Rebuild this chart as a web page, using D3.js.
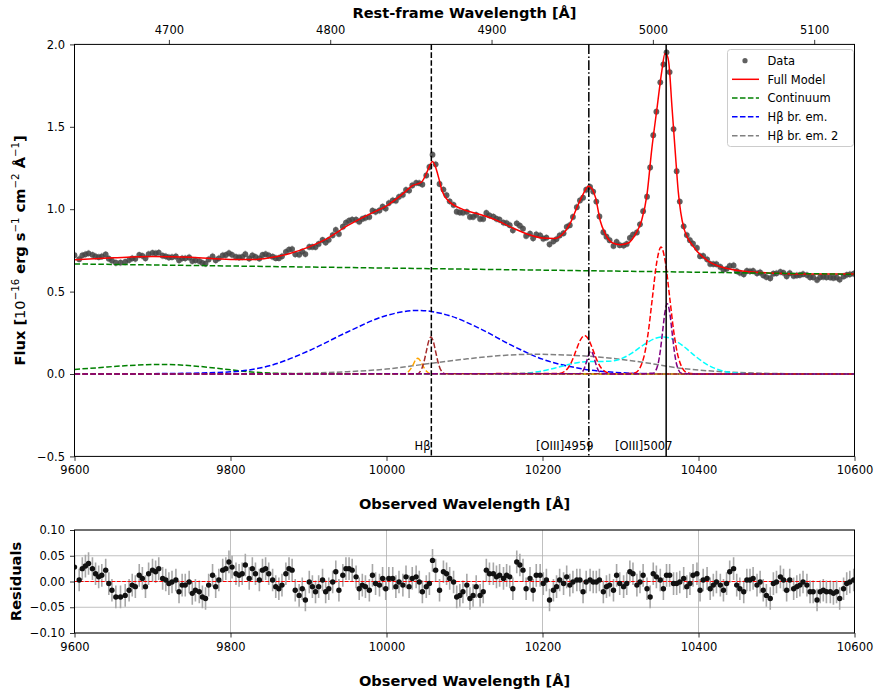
<!DOCTYPE html>
<html><head><meta charset="utf-8">
<script src="https://cdn.jsdelivr.net/npm/d3@7/dist/d3.min.js"></script>
<style>body{margin:0;background:#fff}svg text{font-family:"DejaVu Sans",sans-serif;fill:#000}</style>
</head><body><svg id="c" width="876" height="694"></svg>
<script>
// ---------- DATA ----------
const dataWave=[9600,9606,9610,9614,9618,9623,9627,9631,9635,9640,9644,9648,9653,9659,9665,9670,9674,9678,9683,9687,9691,9695,9700,9704,9708,9713,9717,9721,9725,9730,9734,9738,9742,9747,9751,9755,9760,9764,9768,9772,9777,9781,9785,9790,9794,9798,9802,9807,9811,9815,9819,9824,9828,9832,9837,9841,9845,9849,9854,9858,9862,9866,9871,9875,9879,9883,9888,9892,9896,9901,9905,9909,9913,9918,9922,9926,9931,9935,9939,9944,9948,9952,9956,9961,9965,9969,9973,9978,9982,9986,9991,9995,9999,10003,10008,10012,10016,10021,10025,10029,10033,10038,10042,10046,10051,10055,10059,10063,10068,10073,10077,10081,10086,10090,10094,10098,10103,10107,10111,10115,10120,10124,10128,10132,10137,10141,10145,10150,10154,10158,10162,10167,10171,10175,10179,10184,10188,10192,10197,10201,10205,10209,10214,10218,10222,10227,10231,10235,10239,10244,10248,10252,10256,10261,10265,10269,10273,10278,10282,10286,10291,10295,10299,10304,10308,10312,10316,10321,10325,10329,10334,10338,10342,10346,10351,10355,10359,10363,10368,10372,10376,10381,10385,10389,10393,10398,10402,10406,10411,10415,10419,10423,10428,10432,10436,10440,10445,10449,10453,10458,10462,10466,10470,10475,10479,10483,10487,10492,10496,10500,10505,10509,10513,10517,10522,10526,10530,10534,10539,10543,10547,10552,10556,10560,10564,10569,10573,10577,10581,10586,10590,10594,10599];
const dataFlux=[.721,.697,.720,.726,.732,.723,.714,.709,.713,.725,.700,.688,.675,.676,.680,.691,.702,.699,.722,.717,.702,.727,.735,.732,.737,.718,.714,.707,.709,.713,.690,.702,.702,.707,.685,.690,.685,.674,.670,.695,.713,.690,.702,.720,.722,.734,.723,.710,.707,.710,.727,.701,.720,.711,.701,.722,.728,.720,.712,.703,.703,.714,.741,.755,.758,.726,.724,.743,.728,.771,.771,.770,.789,.813,.798,.814,.842,.874,.850,.894,.919,.930,.937,.937,.924,.941,.948,.953,.991,.984,.992,1.015,1.004,1.037,1.054,1.052,1.075,1.087,1.117,1.113,1.144,1.160,1.158,1.150,1.205,1.256,1.331,1.272,1.153,1.119,1.085,1.048,1.026,.985,.980,.979,.984,.953,.953,.965,.941,.941,.977,.963,.955,.942,.936,.919,.915,.903,.872,.914,.900,.882,.838,.851,.823,.847,.841,.821,.827,.787,.805,.819,.841,.854,.893,.903,.953,1.012,1.053,1.070,1.118,1.135,1.107,1.046,.956,.860,.833,.812,.777,.802,.782,.779,.789,.826,.846,.859,.908,.988,1.076,1.253,1.449,1.592,1.770,1.879,1.952,1.832,1.486,1.231,1.046,.896,.843,.812,.791,.765,.715,.717,.696,.668,.667,.666,.650,.632,.638,.656,.659,.624,.614,.605,.626,.623,.625,.611,.616,.599,.588,.581,.609,.611,.620,.614,.593,.612,.595,.598,.600,.606,.600,.587,.587,.571,.587,.590,.587,.586,.583,.586,.573,.592,.602,.605,.609];
const residuals=[.028,.003,.025,.03,.035,.025,.015,.009,.012,.022,-.004,-.017,-.03,-.03,-.027,-.017,-.007,-.01,.012,.006,-.01,.015,.022,.019,.025,.006,.003,-.004,-.001,.003,-.02,-.007,-.007,-.001,-.023,-.017,-.02,-.03,-.033,-.007,.012,-.01,.003,.022,.025,.038,.028,.015,.012,.015,.032,.006,.025,.015,.003,.022,.025,.015,.003,-.01,-.014,-.007,.015,.025,.022,-.017,-.027,-.014,-.036,-.001,-.01,-.02,-.01,.003,-.02,-.014,-.001,.019,-.017,.012,.025,.025,.022,.009,-.014,-.007,-.01,-.017,.012,-.004,-.007,.006,-.014,.006,.006,-.01,-.001,-.007,.009,-.01,.006,.009,-.001,-.02,-.01,-.004,.041,.022,-.017,.019,.015,.006,-.001,-.03,-.027,-.02,-.007,-.033,-.027,-.01,-.027,-.02,.022,.015,.015,.009,.012,.006,.012,.009,-.014,.038,.032,.022,-.014,.006,-.017,.012,.012,-.004,.003,-.036,-.017,-.01,.003,-.004,.009,-.007,-.001,.003,.003,-.02,-.001,.003,-.001,-.001,.003,-.02,-.01,-.007,-.017,.012,-.004,-.01,-.004,.019,.015,-.007,-.001,.012,-.014,-.03,.015,.009,.003,-.014,.012,.012,-.004,-.004,-.001,.006,-.01,-.004,.012,.015,-.017,.003,.006,-.014,-.007,-.001,-.007,-.017,-.004,.019,.025,-.007,-.014,-.02,.003,.003,.006,-.007,-.001,-.017,-.027,-.033,-.004,-.001,.009,.003,-.017,.003,-.014,-.01,-.007,-.001,-.007,-.02,-.02,-.036,-.02,-.017,-.02,-.02,-.023,-.02,-.033,-.014,-.004,-.001,.003];
const fluxErr=0.022;

const modelWave=[9600,9650,9700,9750,9800,9830,9850,9875,9900,9925,9950,9975,10000,10020,10034,10045,10051,10055,10059,10064,10068,10071,10081,10090,10100,10120,10140,10160,10180,10200,10215,10225,10235,10245,10252,10259,10264,10268,10274,10280,10290,10300,10310,10320,10327,10334,10340,10347,10353,10357,10360,10362,10366,10370,10374,10381,10394,10411,10437,10466,10500,10530,10600];
const modelFlux=[.693,.705,.713,.708,.695,.695,.705,.73,.77,.825,.90,.963,1.02,1.09,1.144,1.165,1.215,1.26,1.29,1.24,1.17,1.114,1.043,1.015,.995,.968,.935,.89,.85,.825,.822,.845,.91,1.02,1.09,1.14,1.12,1.07,.93,.855,.795,.785,.795,.855,.93,1.09,1.36,1.62,1.84,1.945,1.93,1.885,1.62,1.36,1.11,.89,.77,.69,.64,.62,.612,.607,.607];

const contWave=[9600,10600], contFlux=[.668,.605];
const contBumpWave=[9600,9630,9660,9690,9710,9730,9760,9790,9820,9850,9880,9920,10600];
const contBumpFlux=[.028,.038,.049,.056,.058,.056,.046,.031,.015,.006,.002,0,0];
const hbBroadWave=[9600,9700,9750,9800,9850,9900,9950,10000,10040,10080,10120,10160,10200,10250,10300,10350,10400,10600];
const hbBroadFlux=[0,.002,.005,.013,.05,.14,.255,.355,.386,.355,.275,.175,.09,.032,.008,.001,0,0];
const hbBroad2Wave=[9600,9850,9900,9950,10000,10050,10100,10150,10190,10230,10280,10330,10380,10430,10480,10530,10600];
const hbBroad2Flux=[0,.002,.005,.014,.03,.06,.09,.113,.12,.115,.1,.07,.033,.014,.005,.001,0];
const orangeWave=[9600,10022,10028,10031,10034,10037,10040,10043,10046,10049,10052,10058,10600];
const orangeFlux=[0,0,.014,.031,.055,.083,.095,.083,.055,.031,.014,0,0];
const brownWave=[9600,10039,10045,10048,10051,10054,10057,10060,10063,10066,10069,10075,10600];
const brownFlux=[0,0,.030,.073,.136,.198,.225,.198,.136,.073,.030,.002,0];
const redCompWave=[9600,10221,10232,10237.5,10243,10248.5,10254,10259.5,10265,10270.5,10276,10287,10300,10319,10330,10335.5,10341,10346.5,10352,10357.5,10363,10368.5,10374,10385,10400,10600];
const redCompFlux=[0,.003,.032,.076,.142,.206,.234,.206,.142,.076,.032,.003,0,.008,.104,.25,.467,.679,.77,.679,.467,.25,.104,.008,0,0];
const cyanWave=[9600,10150,10180,10200,10220,10240,10256,10270,10285,10300,10315,10330,10345,10355,10365,10380,10395,10410,10425,10440,10460,10490,10600];
const cyanFlux=[0,.001,.006,.019,.041,.065,.075,.076,.077,.091,.128,.178,.217,.225,.215,.171,.112,.06,.027,.01,.002,0,0];
const purpleWave=[9600,10247,10252,10254.5,10257,10259.5,10262,10264.5,10267,10269.5,10272,10277,10300,10342,10348,10351,10354,10357,10360,10363,10366,10369,10372,10378,10400,10600];
const purpleFlux=[0,.002,.019,.045,.084,.122,.139,.122,.084,.045,.019,.002,0,.005,.058,.139,.259,.376,.427,.376,.259,.139,.058,.005,0,0];

const lineRest=[4862.68,4960.30,5008.24];
const lineNames=["Hβ","[OIII]4959","[OIII]5007"];
const onePlusZ=2.0683;

const xTicks=[9600,9800,10000,10200,10400,10600];
const yTicks=[-0.5,0,0.5,1.0,1.5,2.0];
const restTicks=[4700,4800,4900,5000,5100];
const resTicks=[-0.10,-0.05,0,0.05,0.10];

const legendNames=["Data","Full Model","Continuum","Hβ br. em.","Hβ br. em. 2"];

// ---------- DRAW ----------
const svg=d3.select("#c");
const L=74.5,R=854.5,T1=44.4,B1=456.4,T2=530,B2=633;
const x=d3.scaleLinear().domain([9600,10600]).range([L,R]);
const y=d3.scaleLinear().domain([-0.5,2.0]).range([B1,T1]);
const yr=d3.scaleLinear().domain([-0.1,0.1]).range([B2,T2]);
const xRest=d3.scaleLinear().domain([9600/onePlusZ,10600/onePlusZ]).range([L,R]);
const minus=s=>s.replace("-","\u2212");
const FS="11.5px";

const defs=svg.append("defs");
defs.append("clipPath").attr("id","cm").append("rect").attr("x",L).attr("y",T1).attr("width",R-L).attr("height",B1-T1);
defs.append("clipPath").attr("id","cr").append("rect").attr("x",L).attr("y",T2).attr("width",R-L).attr("height",B2-T2);

const pts=(w,f)=>w.map((v,i)=>[v,f[i]]);
const line=d3.line().x(d=>x(d[0])).y(d=>y(d[1])).curve(d3.curveMonotoneX);

const gm=svg.append("g").attr("clip-path","url(#cm)");
const data=pts(dataWave,dataFlux);
gm.append("g").selectAll("line").data(data).join("line")
  .attr("x1",d=>x(d[0])).attr("x2",d=>x(d[0]))
  .attr("y1",d=>y(d[1]-fluxErr)).attr("y2",d=>y(d[1]+fluxErr))
  .attr("stroke","#c4c4c4").attr("stroke-width",1.6);
gm.append("g").selectAll("circle").data(data).join("circle")
  .attr("cx",d=>x(d[0])).attr("cy",d=>y(d[1])).attr("r",2.9)
  .attr("fill","#444").attr("fill-opacity",0.85);
gm.append("path").attr("d",line(pts(modelWave,modelFlux))).attr("fill","none").attr("stroke","#ff0000").attr("stroke-width",1.5);
const DASH="5.55,2.4";
const comps=[
  [contWave,contFlux,"#008000"],
  [contBumpWave,contBumpFlux,"#008000"],
  [hbBroadWave,hbBroadFlux,"#0000ff"],
  [hbBroad2Wave,hbBroad2Flux,"#808080"],
  [orangeWave,orangeFlux,"#ffa500"],
  [cyanWave,cyanFlux,"#00ffff"],
  [redCompWave,redCompFlux,"#ff0000"],
  [brownWave,brownFlux,"#a52a2a"],
  [purpleWave,purpleFlux,"#800080"]
];
comps.forEach(c=>{
  gm.append("path").attr("d",line(pts(c[0],c[1]))).attr("fill","none")
    .attr("stroke",c[2]).attr("stroke-width",1.5).attr("stroke-dasharray",DASH);
});
const vDash=["5.55,2.4","9.6,2.4,1.5,2.4",null];
const lblDx=[-0.8,4.7,6.3];
lineRest.forEach((lr,i)=>{
  const xv=x(lr*onePlusZ);
  const l=svg.append("line").attr("x1",xv).attr("x2",xv).attr("y1",T1).attr("y2",B1)
    .attr("stroke","#000").attr("stroke-width",1.5);
  if(vDash[i]) l.attr("stroke-dasharray",vDash[i]);
  svg.append("text").attr("x",xv+lblDx[i]).attr("y",450).attr("text-anchor","end")
    .style("font-size",FS).text(lineNames[i]);
});

function styleAxis(g){g.select(".domain").remove();g.selectAll(".tick line").attr("stroke","#000").attr("stroke-width",0.8);
  g.selectAll(".tick text").style("font-size",FS).style("font-family","DejaVu Sans").attr("fill","#000");}
svg.append("g").attr("transform",`translate(0,${B1})`)
  .call(d3.axisBottom(x).tickValues(xTicks).tickFormat(d3.format("d")).tickSize(4.5).tickPadding(5)).call(styleAxis);
svg.append("g").attr("transform",`translate(${L},0)`)
  .call(d3.axisLeft(y).tickValues(yTicks).tickFormat(d=>minus(d3.format(".1f")(d))).tickSize(4.5).tickPadding(5)).call(styleAxis);
svg.append("g").attr("transform",`translate(0,${T1})`)
  .call(d3.axisTop(xRest).tickValues(restTicks).tickFormat(d3.format("d")).tickSize(4.5).tickPadding(6)).call(styleAxis);
svg.append("rect").attr("x",L).attr("y",T1).attr("width",R-L).attr("height",B1-T1)
  .attr("fill","none").attr("stroke","#000").attr("stroke-width",1);

const lg=svg.append("g");
lg.append("rect").attr("x",727.5).attr("y",49.5).attr("width",126).attr("height",97).attr("rx",3)
  .attr("fill","#fff").attr("fill-opacity",0.8).attr("stroke","#cccccc").attr("stroke-width",1);
const legY=[60.7,79.3,98,116.8,135.7];
const legCol=["#444","#ff0000","#008000","#0000ff","#808080"];
legendNames.forEach((n,i)=>{
  if(i===0){lg.append("circle").attr("cx",745).attr("cy",legY[i]).attr("r",2.6).attr("fill","#444").attr("fill-opacity",0.85);}
  else{const l=lg.append("line").attr("x1",732).attr("x2",759).attr("y1",legY[i]).attr("y2",legY[i])
    .attr("stroke",legCol[i]).attr("stroke-width",1.5); if(i>1) l.attr("stroke-dasharray",DASH);}
  lg.append("text").attr("x",767.5).attr("y",legY[i]+4.2).style("font-size",FS).text(n);
});

svg.append("text").attr("x",(L+R)/2).attr("y",17.5).attr("text-anchor","middle")
  .style("font-size","14.6px").style("font-weight","bold").text("Rest-frame Wavelength [Å]");
svg.append("text").attr("x",(L+R)/2).attr("y",509).attr("text-anchor","middle")
  .style("font-size","14.6px").style("font-weight","bold").text("Observed Wavelength [Å]");
svg.append("text").attr("x",(L+R)/2).attr("y",686).attr("text-anchor","middle")
  .style("font-size","14.6px").style("font-weight","bold").text("Observed Wavelength [Å]");
const yl=svg.append("text").attr("transform",`translate(24.5,${(T1+B1)/2}) rotate(-90)`).attr("text-anchor","middle")
  .style("font-size","14.6px");
const parts=[["Flux [","b",0],["10","n",0],["\u221216","s",-5.5],[" erg s","b",5.5],["\u22121","s",-5.5],[" cm","b",5.5],["\u22122","s",-5.5],[" Å","b",5.5],["\u22121","s",-5.5],["]","b",5.5]];
parts.forEach(p=>{
  const t=yl.append("tspan").attr("dy",p[2]).text(p[0]);
  if(p[1]==="b") t.style("font-weight","bold");
  if(p[1]==="n") t.style("font-weight","normal");
  if(p[1]==="s") t.style("font-weight","normal").style("font-size","10.2px");
});
svg.append("text").attr("transform",`translate(20.5,${(T2+B2)/2}) rotate(-90)`).attr("text-anchor","middle")
  .style("font-size","14.6px").style("font-weight","bold").text("Residuals");

const gr=svg.append("g");
gr.append("g").selectAll("line.gx").data(xTicks).join("line")
  .attr("x1",d=>x(d)).attr("x2",d=>x(d)).attr("y1",T2).attr("y2",B2).attr("stroke","#b0b0b0").attr("stroke-width",0.8);
gr.append("g").selectAll("line.gy").data(resTicks).join("line")
  .attr("x1",L).attr("x2",R).attr("y1",d=>yr(d)).attr("y2",d=>yr(d)).attr("stroke","#b0b0b0").attr("stroke-width",0.8);
const gres=gr.append("g").attr("clip-path","url(#cr)");
const rdat=pts(dataWave,residuals);
gres.append("g").selectAll("line").data(rdat).join("line")
  .attr("x1",d=>x(d[0])).attr("x2",d=>x(d[0]))
  .attr("y1",d=>yr(d[1]-fluxErr)).attr("y2",d=>yr(d[1]+fluxErr))
  .attr("stroke","#a8a8a8").attr("stroke-width",1.6);
gres.append("line").attr("x1",L).attr("x2",R).attr("y1",yr(0)).attr("y2",yr(0))
  .attr("stroke","#ff0000").attr("stroke-width",1).attr("stroke-dasharray","3.7,1.6");
gres.append("g").selectAll("circle").data(rdat).join("circle")
  .attr("cx",d=>x(d[0])).attr("cy",d=>yr(d[1])).attr("r",2.7).attr("fill","#111");
svg.append("g").attr("transform",`translate(0,${B2})`)
  .call(d3.axisBottom(x).tickValues(xTicks).tickFormat(d3.format("d")).tickSize(4.5).tickPadding(5)).call(styleAxis);
svg.append("g").attr("transform",`translate(${L},0)`)
  .call(d3.axisLeft(yr).tickValues(resTicks).tickFormat(d=>minus(d3.format(".2f")(d))).tickSize(4.5).tickPadding(5)).call(styleAxis);
svg.append("rect").attr("x",L).attr("y",T2).attr("width",R-L).attr("height",B2-T2)
  .attr("fill","none").attr("stroke","#000").attr("stroke-width",1);
</script></body></html>
